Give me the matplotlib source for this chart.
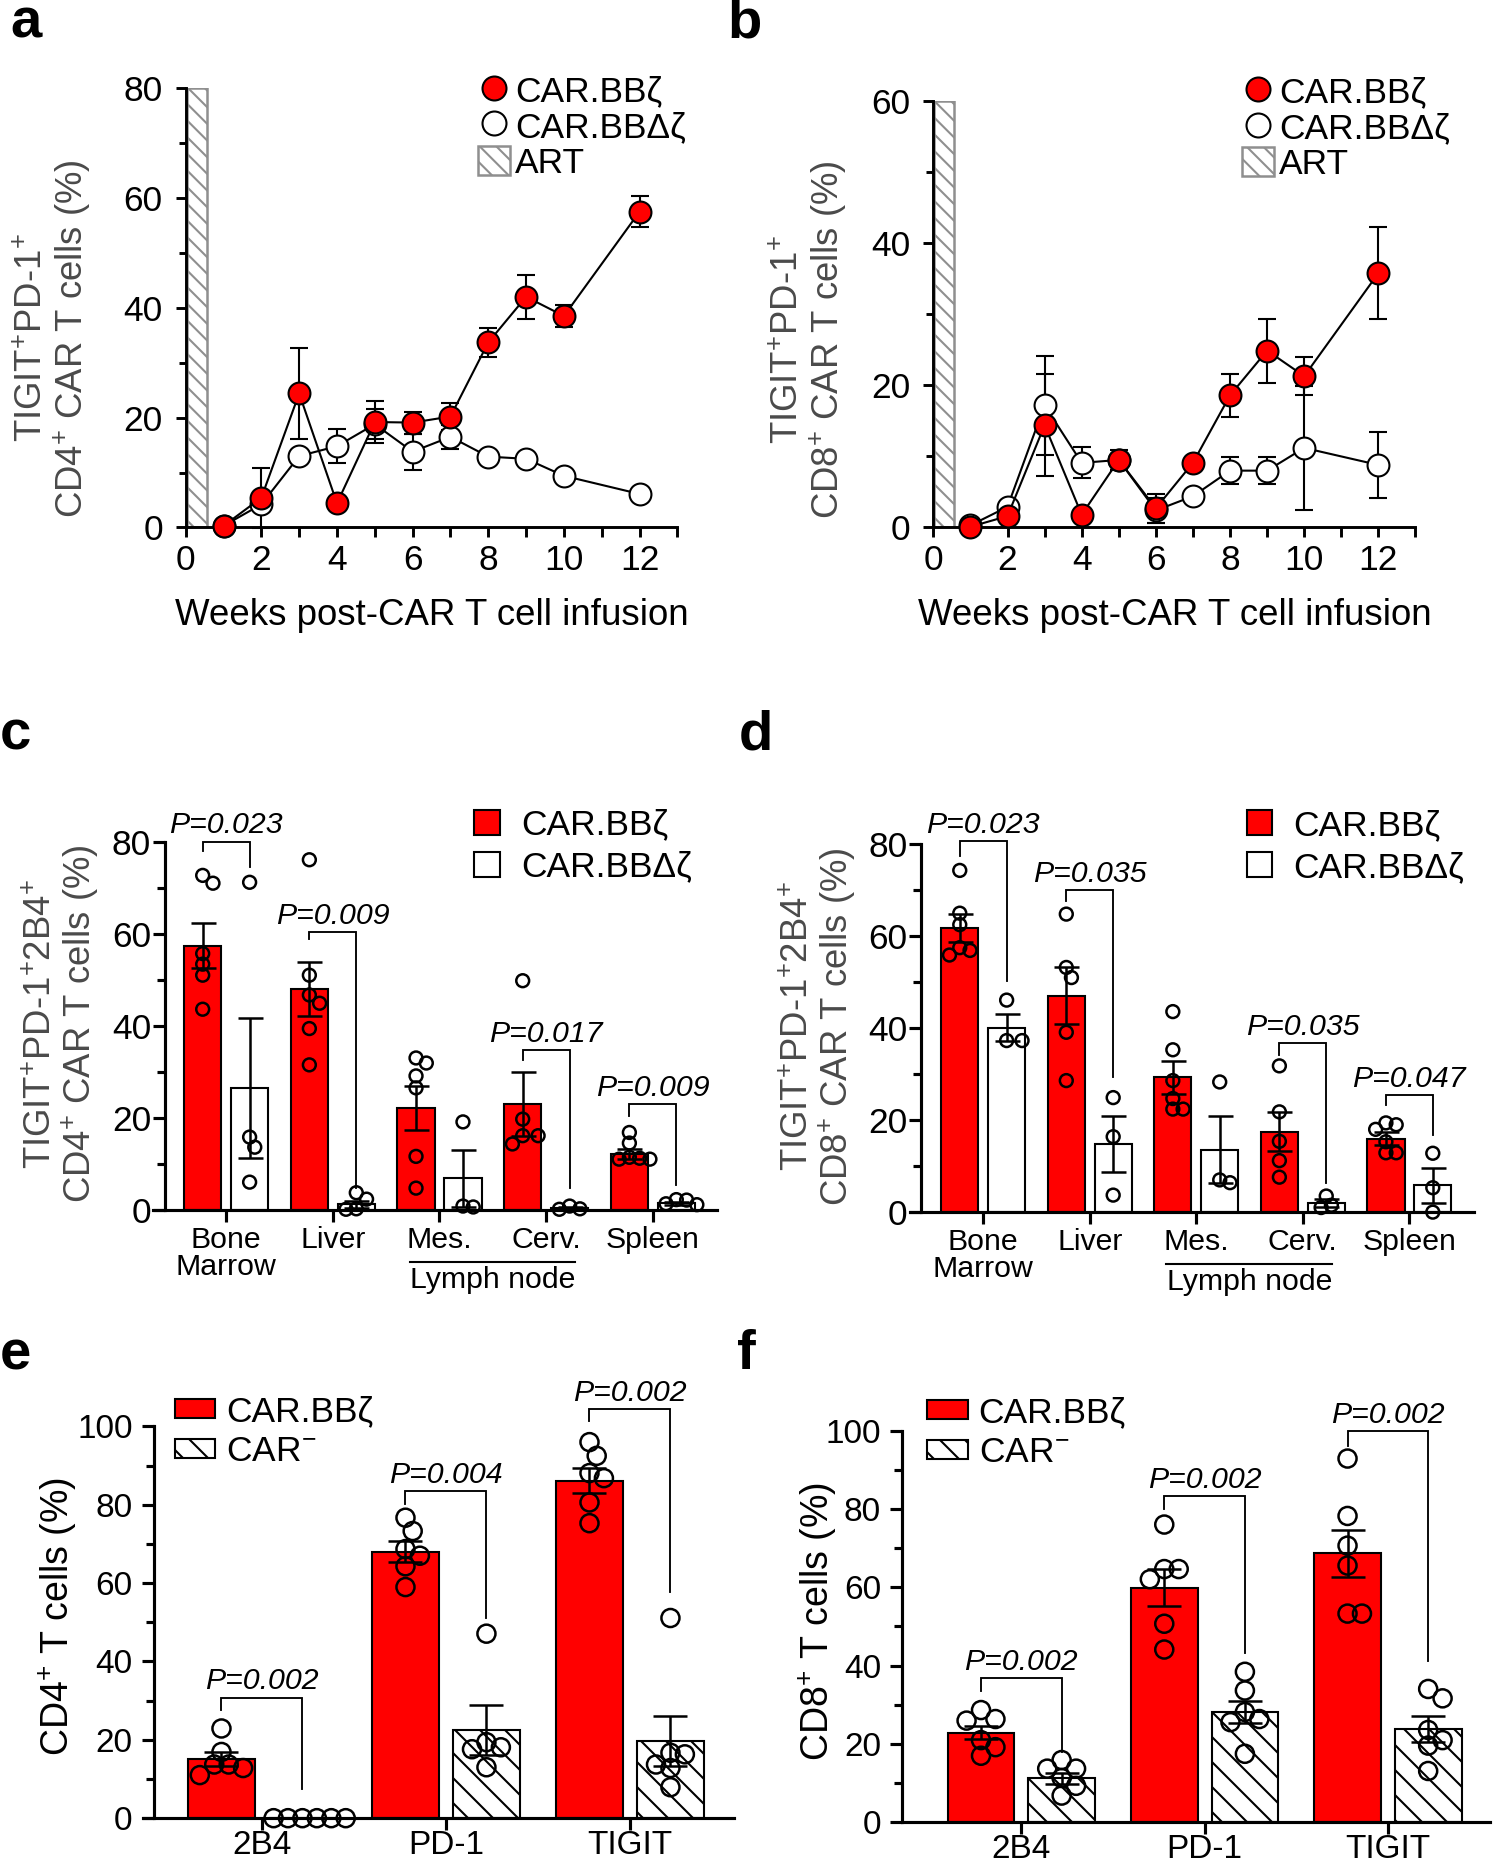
import numpy as np
import matplotlib.pyplot as plt
import matplotlib.transforms as mtransforms
from matplotlib.lines import Line2D
from matplotlib.patches import Patch

# ─── DATA ─────────────────────────────────────────────────────
# panels a/b: weekly time course (mean, SEM)
WEEKS = [1, 2, 3, 4, 5, 6, 7, 8, 9, 10, 12]
A_BBZ = [0.3, 5.4, 24.4, 4.4, 19.2, 19.1, 20.2, 33.7, 42.0, 38.5, 57.5]
A_BBZ_ERR = [0.3, 5.5, 8.2, 0.8, 3.8, 2.0, 2.4, 2.7, 4.0, 2.0, 2.8]
A_DZ = [0.3, 4.2, 13.0, 14.8, 18.8, 13.8, 16.5, 12.9, 12.5, 9.4, 6.1]
A_DZ_ERR = [0.2, 1.0, 0.8, 3.1, 2.7, 3.3, 2.2, 0.6, 0.6, 0.6, 0.5]

B_BBZ = [0.1, 1.6, 14.4, 1.8, 9.5, 2.7, 9.1, 18.6, 24.9, 21.3, 35.8]
B_BBZ_ERR = [0.2, 0.4, 7.2, 0.4, 1.4, 2.0, 0.5, 3.0, 4.5, 2.7, 6.5]
B_DZ = [0.3, 2.9, 17.2, 9.1, 9.5, 2.4, 4.4, 8.0, 8.0, 11.2, 8.8]
B_DZ_ERR = [0.2, 0.5, 7.0, 2.2, 0.8, 1.7, 0.5, 1.9, 1.9, 8.7, 4.6]

# panels c/d: tissues
TISSUES = ['Bone\nMarrow', 'Liver', 'Mes.', 'Cerv.', 'Spleen']
C_BBZ_MEAN = [57.4, 48.0, 22.2, 23.0, 12.1]
C_BBZ_SEM = [4.9, 5.8, 4.8, 7.0, 1.0]
C_DZ_MEAN = [26.5, 1.2, 6.8, 0.4, 1.4]
C_DZ_SEM = [15.2, 0.8, 6.2, 0.2, 0.3]
C_BBZ_PTS = [[71.0, 72.7, 55.7, 53.4, 51.0, 43.6],
             [76.1, 51.0, 46.7, 44.9, 39.4, 31.5],
             [33.0, 31.9, 29.1, 26.5, 11.6, 4.7],
             [49.8, 19.7, 16.1, 16.1, 14.3],
             [16.8, 14.5, 11.2, 11.0, 11.4, 11.0]]
C_DZ_PTS = [[71.2, 15.8, 13.6, 6.0],
            [3.7, 2.3, 0.2, 0.1],
            [19.1, 0.6, 0.8],
            [0.8, 0.2, 0.1],
            [2.2, 2.1, 1.3, 1.1]]
C_P = ['P=0.023', 'P=0.009', 'P=0.017', 'P=0.009']
C_P_GROUP = [0, 1, 3, 4]

D_BBZ_MEAN = [61.8, 47.1, 29.3, 17.5, 16.0]
D_BBZ_SEM = [3.0, 6.3, 3.6, 4.3, 1.4]
D_DZ_MEAN = [40.1, 14.9, 13.6, 2.0, 5.8]
D_DZ_SEM = [2.9, 6.1, 7.3, 0.8, 3.9]
D_BBZ_PTS = [[74.3, 65.0, 62.5, 57.5, 55.9, 56.9],
             [64.8, 53.2, 51.0, 39.1, 28.6],
             [43.6, 35.3, 28.6, 24.7, 22.4, 22.4],
             [31.8, 21.8, 15.4, 11.2, 7.6],
             [19.0, 19.4, 18.0, 15.3, 12.9, 12.9]]
D_DZ_PTS = [[46.1, 37.3, 37.3],
            [24.9, 16.4, 3.7],
            [28.3, 6.4, 7.0],
            [3.5, 1.0, 1.5],
            [12.8, 5.3, 0.0]]
D_P = ['P=0.023', 'P=0.035', 'P=0.035', 'P=0.047']
D_P_GROUP = [0, 1, 3, 4]

# panels e/f: markers, CAR.BBz vs CAR-
MARKERS = ['2B4', 'PD-1', 'TIGIT']
E_BBZ_MEAN = [15.0, 68.0, 86.1]
E_BBZ_SEM = [1.8, 2.7, 3.2]
E_NEG_MEAN = [0.0, 22.5, 19.8]
E_NEG_SEM = [0.0, 6.3, 6.4]
E_BBZ_PTS = [[22.9, 16.9, 13.7, 13.7, 12.8, 11.0],
             [76.7, 73.3, 68.7, 67.0, 64.3, 59.0],
             [96.0, 92.5, 88.1, 86.8, 80.6, 75.3]]
E_NEG_PTS = [[0, 0, 0, 0, 0, 0],
             [47.1, 19.4, 18.1, 17.6, 13.0],
             [51.1, 16.7, 16.3, 13.7, 12.8, 7.9]]
E_P = ['P=0.002', 'P=0.004', 'P=0.002']

F_BBZ_MEAN = [22.8, 59.9, 68.7]
F_BBZ_SEM = [1.7, 4.7, 6.1]
F_NEG_MEAN = [11.1, 28.1, 23.7]
F_NEG_SEM = [1.4, 2.9, 3.3]
F_BBZ_PTS = [[28.6, 26.3, 25.9, 20.9, 19.1, 16.9],
             [76.1, 64.7, 64.7, 62.1, 50.7, 44.1],
             [93.0, 78.3, 70.7, 65.6, 53.3, 53.3]]
F_NEG_PTS = [[15.8, 13.6, 13.6, 11.2, 9.2, 6.7],
             [38.4, 33.6, 28.1, 26.3, 25.5, 17.4],
             [34.0, 31.6, 23.5, 20.9, 19.5, 13.0]]
F_P = ['P=0.002', 'P=0.002', 'P=0.002']
# ──────────────────────────────────────────────────────────────

# bracket geometry (top, left leg end, right leg end)
C_BRK = [(80.0, 77.9, 74.6), (60.4, 58.8, 4.7), (34.7, 32.6, 4.7), (23.0, 20.3, 5.3)]
D_BRK = [(80.6, 77.5, 50.2), (70.0, 67.7, 29.3), (36.7, 34.2, 6.4), (25.5, 23.2, 16.8)]
E_BRK = [(30.8, 27.5, 7.5), (83.4, 80.2, 51.1), (104.4, 101.3, 57.7)]
F_BRK = [(36.8, 33.6, 17.8), (83.3, 80.1, 43.2), (100.0, 96.3, 41.1)]

RED = '#ff0000'
GRAY_LABEL = '#4a4a4a'
FONT = 'Liberation Sans'
W_REF, H_REF = 1260.0, 1568.0   # layout measured on the 1260x1568 preview

plt.rcParams['font.family'] = [FONT, 'DejaVu Sans']
plt.rcParams['mathtext.fontset'] = 'custom'
plt.rcParams['mathtext.rm'] = FONT
plt.rcParams['mathtext.it'] = FONT + ':italic'
plt.rcParams['hatch.linewidth'] = 1.0

fig = plt.figure(figsize=(10, 1867 / 150), dpi=150)


def fx(px):
    return px / W_REF


def fy(py):
    return 1.0 - py / H_REF


def make_axes(left, right, top, bottom):
    return fig.add_axes([fx(left), fy(bottom), (right - left) / W_REF, (bottom - top) / H_REF])


def style_axes(ax, size, spine_w, major_len, minor_len, ypad):
    for s in ['top', 'right']:
        ax.spines[s].set_visible(False)
    for s in ['left', 'bottom']:
        ax.spines[s].set_linewidth(spine_w)
    ax.tick_params(axis='both', which='both', direction='out', width=spine_w, length=major_len,
                   labelsize=size, pad=3)
    ax.tick_params(axis='y', which='minor', length=minor_len)
    ax.tick_params(axis='y', which='major', pad=ypad)


def ylabel_at(ax, text, cx, cy, size, color):
    ax.set_ylabel(text, fontsize=size, color=color, linespacing=1.05)
    ax.yaxis.set_label_coords(fx(cx), fy(cy), transform=fig.transFigure)


def timecourse(ax, bbz, bbz_err, dz, dz_err, ymax, yticks, leg_anchor):
    # ART period as hatched gray bar
    ax.bar(0.03, ymax, width=0.54, align='edge', color='white', edgecolor='#8f8f8f',
           hatch='\\\\\\', lw=1.2, zorder=1)
    for vals, errs, face in [(dz, dz_err, 'white'), (bbz, bbz_err, RED)]:
        cont = ax.errorbar(WEEKS, vals, yerr=errs, fmt='-o', color='black', mfc=face, mec='black',
                           ms=10.5, mew=1.0, lw=1.0, capsize=4.5, elinewidth=1.0, capthick=1.0,
                           zorder=3)
        for art in [cont.lines[0]] + list(cont.lines[1]) + list(cont.lines[2]):
            art.set_clip_on(False)
    ax.set_xlim(0, 13)
    ax.set_ylim(0, ymax)
    ax.set_xticks(range(0, 14))
    ax.set_xticklabels([str(i) if (i % 2 == 0 and i <= 12) else '' for i in range(0, 14)])
    ax.set_yticks(yticks)
    ax.set_yticks([t + 10 for t in yticks[:-1]], minor=True)
    style_axes(ax, 17, 1.4, 5, 3.3, 6)
    ax.set_xlabel('Weeks post-CAR T cell infusion', fontsize=17.6, labelpad=10)
    handles = [Line2D([], [], marker='o', ls='none', mfc=RED, mec='black', ms=11.5, mew=1.0),
               Line2D([], [], marker='o', ls='none', mfc='white', mec='black', ms=11.5, mew=1.0),
               Patch(facecolor='white', edgecolor='#8f8f8f', hatch='\\\\\\', lw=1.2)]
    ax.legend(handles, ['CAR.BB\u03b6', 'CAR.BB\u0394\u03b6', 'ART'], loc='upper right',
              bbox_to_anchor=leg_anchor, frameon=False, fontsize=17, handlelength=0.9,
              handleheight=0.9, handletextpad=0.15, labelspacing=0.05, borderpad=0.1)


def swarm_x(ax, xc, vals, size_pt2):
    # spread overlapping points sideways (display-space collision check)
    diam = np.sqrt(size_pt2) * fig.dpi / 72.0
    ppu = ax.transData.transform((1, 0))[0] - ax.transData.transform((0, 0))[0]
    order = np.argsort(vals, kind='stable')[::-1]
    placed = []
    xs = [xc] * len(vals)
    for i in order:
        x0, y0 = ax.transData.transform((xc, vals[i]))
        for k in [0, 0.4, -0.4, 0.8, -0.8, 1.2, -1.2, 1.6, -1.6, 2.0, -2.0, 2.4, -2.4]:
            xp = x0 + k * diam
            if all(np.hypot(xp - a, y0 - b) >= diam * 0.8 for a, b in placed):
                placed.append((xp, y0))
                xs[i] = xc + k * diam / ppu
                break
    return xs


def bracket(ax, x1, x2, geom, text, size):
    top, yl, yr = geom
    ax.plot([x1, x1, x2, x2], [yl, top, top, yr], color='black', lw=0.9, clip_on=False,
            solid_joinstyle='miter', zorder=5)
    ax.annotate(text, xy=((x1 + x2) / 2, top), xytext=(0, 4), textcoords='offset points',
                ha='center', va='baseline', fontsize=size, style='italic',
                annotation_clip=False)


def bar_panel(ax, labels, m1, e1, p1, m2, e2, p2, hatched, xlim, spine_x, ymax, yticks,
              width, off, pt_size, cap, tick_size, cat_size, ypad, xpad):
    x = np.arange(len(labels))
    ax.set_xlim(*xlim)
    ax.set_ylim(0, ymax)
    ax.bar(x - off, m1, width=width, color=RED, edgecolor='black', lw=1.0, zorder=1)
    if hatched:
        ax.bar(x + off, m2, width=width, color='white', edgecolor='black', lw=1.0,
               hatch='\\\\', zorder=1)
    else:
        ax.bar(x + off, m2, width=width, color='white', edgecolor='black', lw=1.0, zorder=1)
    for xx, m, e in [(x - off, m1, e1), (x + off, m2, e2)]:
        ax.errorbar(xx, m, yerr=e, fmt='none', ecolor='black', elinewidth=1.2, capsize=cap,
                    capthick=1.2, zorder=3)
    for xx, pts in [(x - off, p1), (x + off, p2)]:
        for xc, vals in zip(xx, pts):
            xs = swarm_x(ax, xc, vals, pt_size)
            ax.scatter(xs, vals, s=pt_size, facecolors='none', edgecolors='black',
                       linewidths=1.2, zorder=4, clip_on=False)
    ax.spines['left'].set_position(('data', spine_x))
    ax.set_xticks(x)
    ax.set_xticklabels(labels, linespacing=0.95)
    ax.set_yticks(yticks)
    ax.set_yticks([t + 10 for t in yticks[:-1]], minor=True)
    style_axes(ax, tick_size, 1.5, 5.8, 4, ypad)
    ax.tick_params(axis='x', labelsize=cat_size, pad=xpad)


# ─── panel a ──────────────────────────────────────────────────
ax_a = make_axes(156, 569, 74, 443)
timecourse(ax_a, A_BBZ, A_BBZ_ERR, A_DZ, A_DZ_ERR, 80, [0, 20, 40, 60, 80], (1.06, 1.08))
ylabel_at(ax_a, 'TIGIT$^{+}$PD-1$^{+}$\nCD4$^{+}$ CAR T cells (%)', 78, 284, 17.5, GRAY_LABEL)

# ─── panel b ──────────────────────────────────────────────────
ax_b = make_axes(784, 1189, 85, 443)
timecourse(ax_b, B_BBZ, B_BBZ_ERR, B_DZ, B_DZ_ERR, 60, [0, 20, 40, 60], (1.115, 1.11))
ylabel_at(ax_b, 'TIGIT$^{+}$PD-1$^{+}$\nCD8$^{+}$ CAR T cells (%)', 713, 285, 17.5, GRAY_LABEL)

# ─── panels c/d ───────────────────────────────────────────────
for left, right, top, bottom, spine, means, p_text, p_grp, brk, ylab, lab_xy, leg_xy in [
        (128.5, 602.6, 707, 1016, -0.574,
         (C_BBZ_MEAN, C_BBZ_SEM, C_BBZ_PTS, C_DZ_MEAN, C_DZ_SEM, C_DZ_PTS),
         C_P, C_P_GROUP, C_BRK,
         'TIGIT$^{+}$PD-1$^{+}$2B4$^{+}$\nCD4$^{+}$ CAR T cells (%)', (85, 860), (0.569, 1.09)),
        (764.5, 1238, 709, 1018, -0.583,
         (D_BBZ_MEAN, D_BBZ_SEM, D_BBZ_PTS, D_DZ_MEAN, D_DZ_SEM, D_DZ_PTS),
         D_P, D_P_GROUP, D_BRK,
         'TIGIT$^{+}$PD-1$^{+}$2B4$^{+}$\nCD8$^{+}$ CAR T cells (%)', (721, 862), (0.597, 1.095))]:
    ax = make_axes(left, right, top, bottom)
    m1, e1, p1, m2, e2, p2 = means
    bar_panel(ax, TISSUES, m1, e1, p1, m2, e2, p2, False, (-0.686, 4.605), spine, 80,
              [0, 20, 40, 60, 80], 0.35, 0.22, 38, 6, 17, 14.5, 0.8, 2)
    for txt, g, geom in zip(p_text, p_grp, brk):
        bracket(ax, g - 0.22, g + 0.22, geom, txt, 14.5)
    trans = mtransforms.blended_transform_factory(ax.transData, ax.transAxes)
    ax.plot([1.72, 3.27], [-0.142, -0.142], transform=trans, color='black', lw=1.0, clip_on=False)
    ax.text(2.5, -0.19, 'Lymph node', transform=trans, ha='center', va='center', fontsize=14.5)
    ylabel_at(ax, ylab, lab_xy[0], lab_xy[1], 17.5, GRAY_LABEL)
    handles = [Patch(facecolor=RED, edgecolor='black', lw=1.0),
               Patch(facecolor='white', edgecolor='black', lw=1.0)]
    ax.legend(handles, ['CAR.BB\u03b6', 'CAR.BB\u0394\u03b6'], loc='upper left',
              bbox_to_anchor=leg_xy, frameon=False, fontsize=17, handlelength=0.72,
              handleheight=0.7, handletextpad=0.6, labelspacing=0.25, borderpad=0.0,
              borderaxespad=0.0)

# ─── panels e/f ───────────────────────────────────────────────
for left, right, top, bottom, spine, xlim, vals, p_text, brk, ylab, lab_xy, leg_xy in [
        (120.5, 616.5, 1198, 1527, -0.589, (-0.644, 2.565),
         (E_BBZ_MEAN, E_BBZ_SEM, E_BBZ_PTS, E_NEG_MEAN, E_NEG_SEM, E_NEG_PTS), E_P, E_BRK,
         'CD4$^{+}$ T cells (%)', (66, 1358), (0.053, 1.08)),
        (757.7, 1252, 1202, 1530, -0.651, (-0.651, 2.56),
         (F_BBZ_MEAN, F_BBZ_SEM, F_BBZ_PTS, F_NEG_MEAN, F_NEG_SEM, F_NEG_PTS), F_P, F_BRK,
         'CD8$^{+}$ T cells (%)', (705, 1362), (0.043, 1.09))]:
    ax = make_axes(left, right, top, bottom)
    m1, e1, p1, m2, e2, p2 = vals
    bar_panel(ax, MARKERS, m1, e1, p1, m2, e2, p2, True, xlim, spine, 100,
              [0, 20, 40, 60, 80, 100], 0.364, 0.22, 75, 8, 16, 16, 4.3, 0)
    for g, (txt, geom) in enumerate(zip(p_text, brk)):
        bracket(ax, g - 0.22, g + 0.22, geom, txt, 14.5)
    ylabel_at(ax, ylab, lab_xy[0], lab_xy[1], 18, 'black')
    handles = [Patch(facecolor=RED, edgecolor='black', lw=1.0),
               Patch(facecolor='white', edgecolor='black', lw=1.0, hatch='\\\\')]
    ax.legend(handles, ['CAR.BB\u03b6', 'CAR$^{-}$'], loc='upper left', bbox_to_anchor=leg_xy,
              frameon=False, fontsize=17, handlelength=1.15, handleheight=0.45,
              handletextpad=0.3, labelspacing=0.2, borderpad=0.0, borderaxespad=0.0)

# ─── panel letters ────────────────────────────────────────────
for letter, px, py in [('a', 22, 20), ('b', 625, 20), ('c', 13, 618), ('d', 635, 618),
                       ('e', 13, 1138), ('f', 627, 1138)]:
    fig.text(fx(px), fy(py), letter, fontsize=27, fontweight='bold', ha='center', va='center')

fig.savefig('out.png', dpi=150)
